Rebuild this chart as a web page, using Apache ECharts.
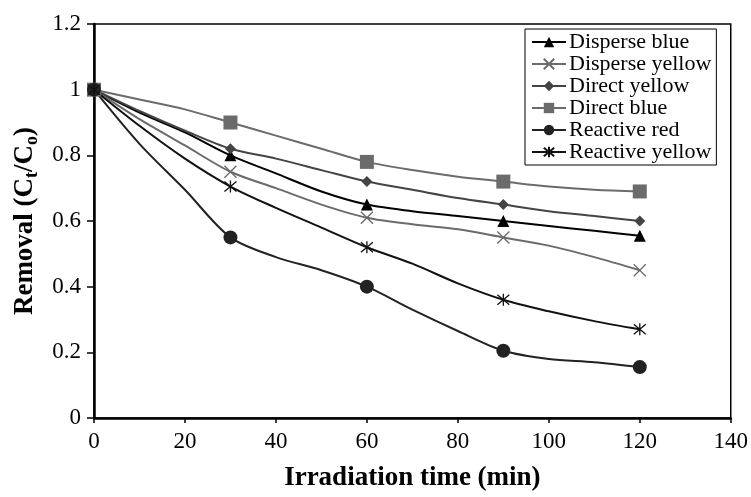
<!DOCTYPE html>
<html>
<head>
<meta charset="utf-8">
<script src="https://cdn.jsdelivr.net/npm/echarts@6/dist/echarts.min.js"></script>
<style>
  html, body { margin: 0; padding: 0; background: #fff; }
  #chart { width: 751px; height: 497px; }
</style>
</head>
<body>
<div id="chart"></div>
<script>
// irradiation time (min)
const times = [0, 10, 20, 30, 40, 50, 60, 70, 80, 90, 100, 110, 120]
// marked measurement times
const markTimes = [0, 30, 60, 90, 120]

// removal Ct/Co
const disperseBlue   = [1, 0.93, 0.87, 0.80, 0.745, 0.69, 0.65, 0.63, 0.615, 0.60, 0.585, 0.57, 0.555]
const disperseYellow = [1, 0.91, 0.83, 0.75, 0.70, 0.65, 0.61, 0.59, 0.575, 0.55, 0.525, 0.49, 0.45]
const directYellow   = [1, 0.935, 0.875, 0.82, 0.79, 0.755, 0.72, 0.695, 0.67, 0.65, 0.63, 0.615, 0.60]
const directBlue     = [1, 0.97, 0.94, 0.90, 0.86, 0.82, 0.78, 0.755, 0.735, 0.72, 0.705, 0.695, 0.69]
const reactiveRed    = [1, 0.835, 0.695, 0.55, 0.49, 0.45, 0.40, 0.33, 0.265, 0.205, 0.18, 0.17, 0.155]
const reactiveYellow = [1, 0.89, 0.79, 0.705, 0.64, 0.58, 0.52, 0.47, 0.41, 0.36, 0.325, 0.295, 0.27]

const xTicks = [0, 20, 40, 60, 80, 100, 120, 140]
const yTicks = [0, 0.2, 0.4, 0.6, 0.8, 1, 1.2]

const FONT = '"Liberation Serif", "Times New Roman", serif'
const CROSS = 'path://M0,0L10,10M10,0L0,10'
const STAR = 'path://M0,0L10,10M10,0L0,10M5,-1L5,11'

function pairs(vals) {
  return times.map((t, i) => [t, vals[i]])
}

// builds one line series; markers only at the measured times
function makeSeries(name, vals, color, symbol, size, itemStyle) {
  return {
    name: name,
    type: 'line',
    data: pairs(vals),
    smooth: 0.3,
    symbol: symbol,
    symbolSize: (v) => (markTimes.includes(v[0]) ? size : 0),
    showAllSymbol: true,
    lineStyle: { color: color, width: 2 },
    itemStyle: itemStyle || { color: color },
    emphasis: { disabled: true },
    z: 3
  }
}

let mychart = echarts.init(document.getElementById('chart'))
mychart.setOption({
  animation: false,
  backgroundColor: '#fff',
  grid: {
    left: 94,
    right: 18,
    top: 24,
    bottom: 79,
    show: true,
    borderColor: '#000',
    borderWidth: 1.5,
    backgroundColor: 'transparent'
  },
  legend: {
    orient: 'vertical',
    left: 525,
    top: 29,
    padding: [2, 5, 2, 6],
    itemGap: 0,
    itemWidth: 34,
    itemHeight: 13,
    backgroundColor: '#fff',
    borderColor: '#000',
    borderWidth: 1,
    borderRadius: 0,
    textStyle: { fontFamily: FONT, fontSize: 22, color: '#000', padding: [0, 0, 0, -2] }
  },
  xAxis: {
    type: 'value',
    min: xTicks[0],
    max: xTicks[xTicks.length - 1],
    interval: 20,
    name: 'Irradiation time (min)',
    nameLocation: 'middle',
    nameGap: 47,
    nameTextStyle: { fontFamily: FONT, fontSize: 27, fontWeight: 'bold', color: '#000' },
    axisLine: { show: true, lineStyle: { color: '#000', width: 2.5 } },
    axisTick: { show: true, inside: false, length: 5, lineStyle: { color: '#000', width: 1.5 } },
    axisLabel: { fontFamily: FONT, fontSize: 23, color: '#000', margin: 12 },
    splitLine: { show: false }
  },
  yAxis: {
    type: 'value',
    min: yTicks[0],
    max: yTicks[yTicks.length - 1],
    interval: 0.2,
    name: 'Removal (C{sub|t}/C{sub|o})',
    nameLocation: 'middle',
    nameGap: 49,
    nameTextStyle: {
      fontFamily: FONT, fontSize: 27, fontWeight: 'bold', color: '#000',
      rich: {
        sub: { fontFamily: FONT, fontSize: 18, fontWeight: 'bold', verticalAlign: 'bottom', lineHeight: 32, padding: [10, 0, 0, 0] }
      }
    },
    axisLine: { show: true, lineStyle: { color: '#000', width: 2.5 } },
    axisTick: { show: true, inside: false, length: 7, lineStyle: { color: '#000', width: 1.5 } },
    axisLabel: { fontFamily: FONT, fontSize: 23, color: '#000', margin: 13 },
    splitLine: { show: false }
  },
  series: [
    makeSeries('Disperse blue', disperseBlue, '#000', 'triangle', 12),
    makeSeries('Disperse yellow', disperseYellow, '#6b6b6b', CROSS, 12,
      { color: '#fff', borderColor: '#6b6b6b', borderWidth: 1.3 }),
    makeSeries('Direct yellow', directYellow, '#444', 'diamond', 11),
    makeSeries('Direct blue', directBlue, '#6b6b6b', 'rect', 14),
    makeSeries('Reactive red', reactiveRed, '#222', 'circle', 14),
    makeSeries('Reactive yellow', reactiveYellow, '#111', STAR, 12,
      { color: '#fff', borderColor: '#111', borderWidth: 1.3 })
  ]
})
</script>
</body>
</html>
